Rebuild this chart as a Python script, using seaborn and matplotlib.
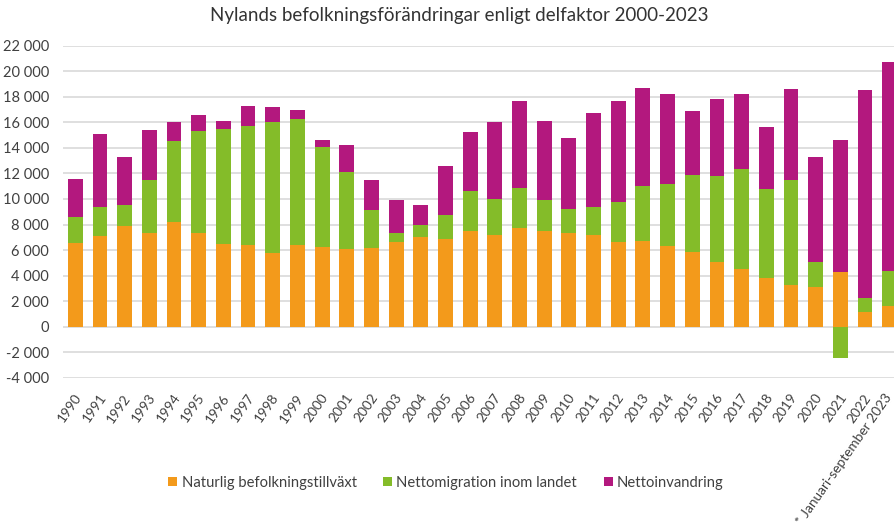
import numpy as np
import pandas as pd
import matplotlib
matplotlib.use("Agg")
import matplotlib.pyplot as plt
import matplotlib.transforms as mtrans
from matplotlib.ticker import FuncFormatter, MultipleLocator
import seaborn as sns

sns.set_theme(style="whitegrid")
plt.rcParams['font.family'] = ['Lato', 'DejaVu Sans']

years = [str(y) for y in range(1990, 2023)] + ["* Januari-september 2023"]

natural = [6550, 7100, 7850, 7300, 8200, 7300, 6500, 6400, 5750, 6400,
           6250, 6100, 6150, 6650, 7000, 6850, 7500, 7150, 7750, 7500,
           7350, 7200, 6600, 6700, 6350, 5850, 5100, 4500, 3850, 3300,
           3100, 4250, 1150, 1650]
domestic = [2050, 2300, 1650, 4150, 6350, 8000, 9000, 9350, 10250, 9900,
            7850, 6000, 3000, 700, 1000, 1900, 3100, 2850, 3100, 2400,
            1900, 2200, 3150, 4300, 4850, 6000, 6700, 7850, 6900, 8200,
            2000, -2450, 1100, 2700]
immigration = [2950, 5650, 3800, 3950, 1500, 1300, 600, 1550, 1200, 700,
               500, 2150, 2300, 2600, 1500, 3850, 4650, 6050, 6850, 6200,
               5500, 7350, 7900, 7650, 7000, 5000, 6000, 5850, 4850, 7100,
               8200, 10400, 16300, 16400]

series = [
    ("Naturlig befolkningstillväxt", natural, "#F39A1B"),
    ("Nettomigration inom landet", domestic, "#84BC29"),
    ("Nettoinvandring", immigration, "#B3187E"),
]

fig = plt.figure(figsize=(8.94, 5.28), dpi=100)
W, H = 894, 528
left, right, top, bottom = 63, 902, 45.7, 377.8
ax = fig.add_axes([left / W, 1 - bottom / H, (right - left) / W, (bottom - top) / H])

# stack positives and negatives separately, like Excel does
pos = np.zeros(len(years))
neg = np.zeros(len(years))
for name, vals, col in series:
    v = np.array(vals, dtype=float)
    base = np.where(v >= 0, pos, neg)
    sns.barplot(x=years, y=v, bottom=base, color=col, width=0.6,
                errorbar=None, label=name, linewidth=0, saturation=1, ax=ax)
    pos = pos + np.where(v >= 0, v, 0)
    neg = neg + np.where(v < 0, v, 0)

ax.set_ylim(-4000, 22000)
ax.set_xlim(-0.5, len(years) - 0.5)
ax.yaxis.set_major_locator(MultipleLocator(2000))
ax.yaxis.set_major_formatter(FuncFormatter(lambda v, p: f"{v:,.0f}".replace(",", " ")))
ax.grid(axis="y", color="#D9D9D9", linewidth=1.2)
ax.grid(axis="x", visible=False)
ax.set_axisbelow(True)
for s in ax.spines.values():
    s.set_visible(False)
ax.tick_params(axis="both", length=0, colors="#404040", labelsize=10.5)
ax.tick_params(axis="y", pad=10)
ax.set_xticks(range(len(years)))
ax.set_xticklabels(years, rotation=55, ha="right", rotation_mode="anchor", fontsize=9.8)
ax.tick_params(axis="x", pad=10)
xlabs = ax.get_xticklabels()
for i, lab in enumerate(xlabs):
    dx = -4 if i == len(xlabs) - 1 else -1
    lab.set_transform(lab.get_transform() + mtrans.ScaledTranslation(dx / 72, 0, fig.dpi_scale_trans))
ax.set_xlabel("")
ax.set_ylabel("")
if ax.get_legend() is not None:
    ax.get_legend().remove()

handles, labels = ax.get_legend_handles_labels()
fig.legend(handles, labels, loc="center", bbox_to_anchor=(446 / W, 1 - 483 / H),
           ncol=3, frameon=False, fontsize=10.6, handlelength=0.6, handleheight=0.6,
           handletextpad=0.3, columnspacing=1.8, labelcolor="#404040")

fig.text(459 / W, 1 - 16 / H, "Nylands befolkningsförändringar enligt delfaktor 2000-2023",
         ha="center", va="center", fontsize=13.5, color="#333333")

fig.savefig("out.png", dpi=100)
